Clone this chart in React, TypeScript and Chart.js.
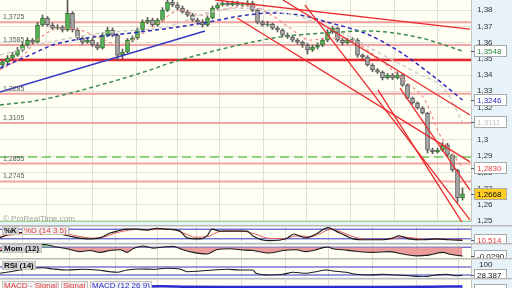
import React, { useEffect, useRef } from 'react';
import { Chart, registerables } from 'chart.js';

Chart.register(...registerables);

// ---------- price data (one candle per bar index) ----------
const opens = [1.3460,1.3480,1.3505,1.3523,1.3554,1.3585,1.3615,1.3603,1.3708,1.3751,
  1.3708,1.3689,1.3695,1.3677,1.3780,1.3677,1.3628,1.3603,1.3615,1.3585,
  1.3566,1.3646,1.3677,1.3646,1.3523,1.3542,1.3615,1.3628,1.3677,1.3726,
  1.3738,1.3708,1.3738,1.3800,1.3849,1.3831,1.3812,1.3788,1.3769,1.3738,
  1.3726,1.3708,1.3751,1.3812,1.3831,1.3843,1.3831,1.3843,1.3831,1.3831,
  1.3843,1.3800,1.3726,1.3708,1.3714,1.3689,1.3677,1.3646,1.3634,1.3615,
  1.3603,1.3585,1.3554,1.3572,1.3585,1.3615,1.3665,1.3689,1.3615,1.3597,
  1.3615,1.3615,1.3523,1.3511,1.3462,1.3431,1.3418,1.3382,1.3400,1.3382,
  1.3400,1.3338,1.3258,1.3228,1.3197,1.3166,1.2938,1.2926,1.2938,1.2969,
  1.2908,1.2815,1.2643];
const closes = [1.3480,1.3505,1.3523,1.3554,1.3585,1.3615,1.3603,1.3708,1.3751,1.3708,
  1.3689,1.3695,1.3677,1.3780,1.3677,1.3628,1.3603,1.3615,1.3585,1.3566,
  1.3646,1.3677,1.3646,1.3523,1.3542,1.3615,1.3628,1.3677,1.3726,1.3738,
  1.3708,1.3738,1.3800,1.3849,1.3831,1.3812,1.3788,1.3769,1.3738,1.3726,
  1.3708,1.3751,1.3812,1.3831,1.3843,1.3831,1.3843,1.3831,1.3831,1.3843,
  1.3800,1.3726,1.3708,1.3714,1.3689,1.3677,1.3646,1.3634,1.3615,1.3603,
  1.3585,1.3554,1.3572,1.3585,1.3615,1.3665,1.3689,1.3615,1.3597,1.3615,
  1.3615,1.3523,1.3511,1.3462,1.3431,1.3418,1.3382,1.3400,1.3382,1.3400,
  1.3338,1.3258,1.3228,1.3197,1.3166,1.2938,1.2926,1.2938,1.2969,1.2908,
  1.2815,1.2643,1.2668];
const highs = [1.3495,1.3520,1.3540,1.3570,1.3600,1.3630,1.3625,1.3725,1.3770,1.3760,
  1.3720,1.3710,1.3705,1.3862,1.3790,1.3690,1.3640,1.3630,1.3625,1.3600,
  1.3660,1.3695,1.3690,1.3655,1.3560,1.3625,1.3640,1.3690,1.3740,1.3755,
  1.3750,1.3750,1.3815,1.3862,1.3860,1.3845,1.3825,1.3800,1.3780,1.3750,
  1.3740,1.3765,1.3825,1.3845,1.3858,1.3855,1.3856,1.3855,1.3845,1.3858,
  1.3855,1.3810,1.3735,1.3730,1.3720,1.3700,1.3685,1.3660,1.3645,1.3625,
  1.3610,1.3595,1.3585,1.3598,1.3625,1.3680,1.3700,1.3695,1.3625,1.3625,
  1.3630,1.3625,1.3530,1.3520,1.3470,1.3440,1.3425,1.3410,1.3410,1.3420,
  1.3410,1.3345,1.3265,1.3235,1.3205,1.3170,1.2950,1.2950,1.2985,1.2980,
  1.2915,1.2820,1.2705];
const lows = [1.3440,1.3470,1.3495,1.3515,1.3545,1.3575,1.3590,1.3595,1.3700,1.3700,
  1.3680,1.3680,1.3665,1.3670,1.3665,1.3615,1.3590,1.3595,1.3575,1.3555,
  1.3560,1.3635,1.3635,1.3490,1.3500,1.3535,1.3605,1.3620,1.3670,1.3715,
  1.3700,1.3700,1.3730,1.3790,1.3820,1.3800,1.3780,1.3760,1.3730,1.3715,
  1.3695,1.3700,1.3745,1.3805,1.3825,1.3825,1.3825,1.3825,1.3820,1.3825,
  1.3790,1.3715,1.3700,1.3700,1.3680,1.3665,1.3635,1.3625,1.3605,1.3590,
  1.3570,1.3530,1.3545,1.3560,1.3575,1.3605,1.3655,1.3605,1.3585,1.3590,
  1.3600,1.3510,1.3500,1.3455,1.3420,1.3410,1.3370,1.3375,1.3372,1.3375,
  1.3330,1.3250,1.3220,1.3190,1.3160,1.2920,1.2915,1.2920,1.2930,1.2900,
  1.2805,1.2615,1.2630];

// ---------- axis ticks ----------
const priceTicks = [1.25,1.26,1.27,1.28,1.29,1.30,1.31,1.32,1.33,1.34,1.35,1.36,1.37,1.38];
const gridX = [4.1,13.3,22.5,30.9,38.9,47.7,56.5,65.1,74.1,82.7,91.3];

// ---------- horizontal levels ----------
const levelLines = [1.3725,1.3585,1.3285,1.3105,1.2855,1.2745];
const majorLevel = 1.3492;
const greenDashedLevel = 1.2895;
const baseLevel = 1.25;

// ---------- moving averages (bar index, price) ----------
const blueMaX = [-0.5,5.5,10.1,16.9,25.5,33.5,40.1,47.5,53.5,59.5,64.9,72.9,79.5,86.1,92];
const blueMaY = [1.3443,1.3523,1.3585,1.3628,1.3658,1.3689,1.3720,1.3763,1.3782,1.3769,1.3726,1.3652,1.3542,1.3394,1.3246];
const greenMaX = [-0.5,7.5,19.5,29.5,33.5,45.5,55.5,67.5,72.9,82.9,92];
const greenMaY = [1.3215,1.3246,1.3338,1.3431,1.3474,1.3572,1.3634,1.3665,1.3671,1.3634,1.3548];
const grayMaX = [-0.5,9.5,19.5,33.5,41.5,48.5,55.5,61.5,69.5,76.1,82.9,88.5,92];
const grayMaY = [1.3523,1.3603,1.3658,1.3702,1.3788,1.3812,1.3788,1.3738,1.3634,1.3523,1.3412,1.3308,1.3111];
const pinkMaX = [-0.5,3.5,7.5,11.5,15.5,19.5,23.5,27.5,31.5,35.5,39.5,43.5,49.5,53.5,57.5,61.5,65.5,69.5,73.5,77.5,81.5,84.5,87.5,92];
const pinkMaY = [1.3431,1.3505,1.3628,1.3689,1.3677,1.3628,1.3585,1.3646,1.3726,1.3800,1.3769,1.3800,1.3825,1.3775,1.3689,1.3615,1.3628,1.3615,1.3542,1.3443,1.3338,1.3246,1.3031,1.2830];

// ---------- trend lines [x1, x2] / [price1, price2] ----------
const redTrendX = [[42.5,93.5],[56.1,93.5],[46.9,93.5],[60.5,93.5],[75.1,93.5],[79.5,93.5]];
const redTrendY = [[1.3862,1.3683],[1.3862,1.3154],[1.3751,1.2865],[1.3831,1.2508],[1.3308,1.2415],[1.3320,1.2692]];
const blueTrendX = [-0.5,40.5];
const blueTrendY = [1.3295,1.3671];

// ---------- indicators ----------
const stochKX = [-0.5,1.5,5.5,8.5,11.5,14.1,16.9,19.5,21.5,22.9,24.9,26.9,28.9,30.9,32.9,35.5,36.9,39.5,40.9,41.9,43.5,46.1,48.9,50.1,53.3,56.7,58.3,59.3,60.7,62.7,65.1,66.7,68.7,70.1,72.7,76.1,78.1,79.3,81.3,84.1,86.7,89.3,92];
const stochKY = [26,50,62,68,50,32,20,26,56,68,80,80,74,86,80,68,26,20,38,80,68,68,68,38,8,20,50,38,26,50,90,68,38,20,14,14,26,38,20,14,20,14,10.514];
const stochDX = [-0.5,2,6,9.5,12.5,15.5,18,20.5,22.5,24.5,26.5,29,31.5,34,36.5,38.5,41,43,45,48,50.5,53.5,56.5,58.5,60,61.5,63.5,65.5,67.5,69.5,71.5,74,77,79,80.5,82.5,85,88,90,92];
const stochDY = [35,45,58,64,52,34,24,34,55,70,78,76,80,78,52,30,34,62,70,68,50,22,22,38,38,32,52,78,66,40,22,16,16,26,30,24,16,18,16,13];
const momX = [-0.5,3,6.5,8.1,10.9,12.9,15.5,17.5,19.5,21.5,23.5,24.9,26.1,28.1,30.1,32.1,34.1,35.9,38.1,40.9,42.9,45.5,47.5,50.1,53.3,56.1,58.7,60.7,62.7,64.1,65.1,66.1,68.1,70.7,74.1,77.3,80.1,82.7,85.3,88.1,89.3,92];
const momY = [-0.012,-0.004,0.004,0.009,0.0007,-0.0048,-0.0142,-0.0107,-0.0166,-0.0107,-0.0083,-0.0166,-0.0048,0.0042,-0.0028,0.0007,0.0031,-0.0073,-0.0166,-0.0221,-0.0073,-0.0048,-0.0083,-0.0107,-0.0187,-0.0107,-0.0083,-0.0142,-0.0083,-0.0014,0.0007,-0.0048,-0.0083,-0.0131,-0.0166,-0.0142,-0.0221,-0.028,-0.0256,-0.0166,-0.0221,-0.029];
const rsiX = [-0.5,1.5,5.9,8.1,10.1,12.9,16.1,18.9,21.5,22.9,24.9,27.5,30.1,32.9,35.5,36.9,39.5,42.1,44.9,47.5,50.1,50.7,53.3,56.1,58.1,60.7,62.7,64.7,66.1,68.7,70.7,73.3,76.1,78.7,81.3,84.1,86.7,88.7,90.7,92];
const rsiY = [38.5,46.5,63.5,66.5,60,55,58.5,55,46.5,43.5,55,60,58.5,63.5,60,46.5,50,55,58.5,55,55,38.5,30,33.5,43.5,38.5,46.5,55,50,43.5,33.5,30,33.5,30,26.5,21.5,30,33.5,26.5,28.387];
const rsiBounds = [70, 30];
const stochBounds = [80, 20];
const macdX = [24,28,32,36,45,55,65,75,85,92];
const macdY = [0.0095,0.0105,0.0110,0.0100,0.0090,0.0088,0.0090,0.0092,0.0095,0.0105];

// ---------- helpers ----------
const AXIS_W = 41;
const X_MIN = -0.5;
const X_MAX = 93.7;
const FONT = "'Liberation Sans', Arial, sans-serif";
const last = (a: number[]) => a[a.length - 1];
const fmt = (v: number, d?: number) => (d === undefined ? String(+v.toFixed(4)) : v.toFixed(d)).replace('.', ',');
const pts = (xs: number[], ys: number[]) => xs.map((x, i) => ({ x, y: ys[i] }));

const line = (data: any[], color: string, width: number, dash: number[] = [], order = 1, smooth = false, extra: any = {}) => ({
  type: 'line',
  data,
  borderColor: color,
  borderWidth: width,
  borderDash: dash,
  pointRadius: 0,
  fill: false,
  order,
  tension: smooth ? 0.4 : 0,
  cubicInterpolationMode: smooth ? 'monotone' : 'default',
  ...extra,
});
const hline = (v: number, color: string, width: number, dash: number[] = [], order = 8) =>
  line([{ x: X_MIN, y: v }, { x: X_MAX, y: v }], color, width, dash, order);

const xScale = () => ({
  type: 'linear',
  min: X_MIN,
  max: X_MAX,
  offset: false,
  ticks: { display: false },
  grid: { color: '#e1dfd5', drawTicks: false },
  border: { display: false },
  afterBuildTicks: (s: any) => { s.ticks = gridX.map((v) => ({ value: v })); },
});
const fitRight = (s: any) => {
  s.width = AXIS_W;
  s.paddingTop = 0;
  s.paddingBottom = 0;
};
const hiddenY = (min: number, max: number) => ({
  type: 'linear',
  position: 'right',
  min,
  max,
  ticks: { display: false },
  grid: { display: false, drawTicks: false },
  border: { display: false },
  afterFit: fitRight,
});

const bgPlugin = (separator: boolean) => ({
  id: 'bgfill',
  beforeDraw(chart: any) {
    const { ctx, chartArea: a, width, height } = chart;
    ctx.save();
    ctx.fillStyle = '#e8f2f9';
    ctx.fillRect(0, 0, width, height);
    ctx.fillStyle = '#fffff3';
    ctx.fillRect(a.left, a.top, a.right - a.left, a.bottom - a.top);
    if (separator) {
      ctx.fillStyle = '#b9b9b9';
      ctx.fillRect(0, 0, width, 1);
      ctx.fillStyle = '#dadada';
      ctx.fillRect(0, 1, width, 1);
    }
    ctx.restore();
  },
  afterDraw(chart: any) {
    const { ctx, chartArea: a } = chart;
    ctx.save();
    ctx.fillStyle = '#c4c4c4';
    ctx.fillRect(a.right, a.top, 1, a.bottom - a.top);
    ctx.restore();
  },
});

function valueBox(ctx: any, a: any, y: number, text: string, color: string, bg: string) {
  const yy = Math.round(y);
  ctx.fillStyle = '#555';
  ctx.fillRect(a.right, yy, 4, 1);
  ctx.fillStyle = bg;
  ctx.fillRect(a.right + 3, yy - 6, 33, 12);
  ctx.strokeStyle = '#a9a9a9';
  ctx.lineWidth = 1;
  ctx.strokeRect(a.right + 3.5, yy - 5.5, 32, 11);
  ctx.fillStyle = color;
  ctx.font = `8px ${FONT}`;
  ctx.textAlign = 'left';
  ctx.textBaseline = 'middle';
  ctx.fillText(text, a.right + 6, yy + 0.5);
}

function tag(ctx: any, x: number, yTop: number, text: string, color: string, bg: string, bold = true) {
  ctx.font = `${bold ? 'bold ' : ''}8px ${FONT}`;
  const w = Math.ceil(ctx.measureText(text).width) + 4;
  ctx.fillStyle = bg;
  ctx.fillRect(x, yTop, w, 9);
  ctx.strokeStyle = '#c2c2c2';
  ctx.lineWidth = 1;
  ctx.strokeRect(x + 0.5, yTop + 0.5, w - 1, 8);
  ctx.fillStyle = color;
  ctx.textAlign = 'left';
  ctx.textBaseline = 'middle';
  ctx.fillText(text, x + 2, yTop + 5);
  return x + w;
}

const baseOptions = (padding: any) => ({
  responsive: false,
  animation: false,
  events: [],
  layout: { padding },
  plugins: { legend: { display: false }, tooltip: { enabled: false } },
});

function mainConfig(): any {
  const up = (i: number) => closes[i] >= opens[i];
  return {
    type: 'bar',
    data: {
      datasets: [
        ...levelLines.map((l) => hline(l, '#f2a2a0', 2, [], 9)),
        hline(majorLevel, '#e8262b', 2.5, [], 9),
        hline(greenDashedLevel, '#6cc85a', 1.5, [9, 5], 9),
        hline(baseLevel, '#86c476', 1, [], 9),
        {
          type: 'bar',
          data: highs.map((h, i) => ({ x: i, y: [lows[i], h] })),
          backgroundColor: '#5a5a5a',
          barThickness: 1,
          grouped: false,
          borderSkipped: false,
          order: 6,
        },
        {
          type: 'bar',
          data: opens.map((o, i) => ({ x: i, y: [o, closes[i]] })),
          backgroundColor: opens.map((_, i) => (up(i) ? '#55b655' : '#a8a8a8')),
          borderColor: opens.map((_, i) => (up(i) ? '#2f6e2f' : '#505050')),
          borderWidth: 1,
          barThickness: 4,
          minBarLength: 1,
          grouped: false,
          borderSkipped: false,
          order: 5,
        },
        line(pts(greenMaX, greenMaY), '#3e8c52', 1.5, [4, 3], 3, true),
        line(pts(grayMaX, grayMaY), '#cfcfcf', 1.5, [4, 3], 3, true),
        line(pts(blueMaX, blueMaY), '#2b2bbd', 1.5, [4, 3], 3, true),
        line(pts(pinkMaX, pinkMaY), '#f08a8a', 1.2, [3, 3], 3, true),
        line(pts(blueTrendX, blueTrendY), '#3838c4', 1.5, [], 2),
        ...redTrendX.map((xs, k) => line(pts(xs, redTrendY[k]), '#ea2a2e', 1.3, [], 1)),
      ],
    },
    options: {
      ...baseOptions({ top: 0, bottom: 3, left: 0, right: 0 }),
      scales: {
        x: xScale(),
        y: {
          type: 'linear',
          position: 'right',
          min: 1.2495,
          max: 1.3862,
          afterBuildTicks: (s: any) => { s.ticks = priceTicks.map((v) => ({ value: v })); },
          afterFit: fitRight,
          ticks: { padding: 6, color: '#333', font: { family: FONT, size: 8 }, callback: (v: any) => fmt(Number(v)) },
          grid: { color: '#e6e4da', drawTicks: false },
          border: { display: false },
        },
      },
    },
    plugins: [
      bgPlugin(false),
      {
        id: 'mainDecor',
        afterDraw(chart: any) {
          const { ctx, chartArea: a } = chart;
          const y = chart.scales.y;
          ctx.save();
          ctx.font = `7px ${FONT}`;
          ctx.fillStyle = '#5a5a5a';
          ctx.textAlign = 'left';
          ctx.textBaseline = 'alphabetic';
          levelLines.forEach((l) => ctx.fillText(fmt(l, 4), a.left + 3, y.getPixelForValue(l) - 3));
          ctx.font = `8px ${FONT}`;
          ctx.fillStyle = '#9f9f9f';
          ctx.fillText('© ProRealTime.com', a.left + 3, a.bottom - 1);
          valueBox(ctx, a, y.getPixelForValue(last(greenMaY)), fmt(last(greenMaY), 4), '#2f8a3c', '#ffffff');
          valueBox(ctx, a, y.getPixelForValue(last(blueMaY)), fmt(last(blueMaY), 4), '#2b2bbd', '#ffffff');
          valueBox(ctx, a, y.getPixelForValue(last(grayMaY)), fmt(last(grayMaY), 4), '#c4c4c4', '#ffffff');
          valueBox(ctx, a, y.getPixelForValue(last(pinkMaY)), fmt(last(pinkMaY), 4), '#e23b3b', '#ffffff');
          valueBox(ctx, a, y.getPixelForValue(last(closes)), fmt(last(closes), 4), '#111111', '#ffcc22');
          ctx.restore();
        },
      },
    ],
  };
}

function panelConfig(datasets: any[], yMin: number, yMax: number, padding: any, decor: (chart: any) => void): any {
  return {
    type: 'line',
    data: { datasets },
    options: {
      ...baseOptions(padding),
      scales: { x: xScale(), y: hiddenY(yMin, yMax) },
    },
    plugins: [bgPlugin(true), { id: 'decor', afterDraw(chart: any) { chart.ctx.save(); decor(chart); chart.ctx.restore(); } }],
  };
}

export default function App() {
  const mainRef = useRef<HTMLCanvasElement>(null);
  const kRef = useRef<HTMLCanvasElement>(null);
  const momRef = useRef<HTMLCanvasElement>(null);
  const rsiRef = useRef<HTMLCanvasElement>(null);
  const macdRef = useRef<HTMLCanvasElement>(null);

  useEffect(() => {
    const charts: any[] = [];
    charts.push(new Chart(mainRef.current as any, mainConfig()));

    charts.push(new Chart(kRef.current as any, panelConfig([
      ...stochBounds.map((b) => hline(b, '#3535c8', 1, [], 5)),
      line(pts(stochDX, stochDY), '#e35b5b', 1, [], 2, true),
      line(pts(stochKX, stochKY), '#1c1c1c', 1.2, [], 1, true),
    ], 0, 100, { top: 1, bottom: 1 }, (chart) => {
      const { ctx, chartArea: a } = chart;
      const x2 = tag(ctx, 2, a.top, '%K', '#111', '#d6d6d6');
      tag(ctx, x2 + 3, a.top, '%D (14 3 5)', '#e03a3a', '#efefef', false);
      valueBox(ctx, a, chart.scales.y.getPixelForValue(last(stochKY)), fmt(last(stochKY), 3), '#e03a3a', '#ffffff');
    })));

    charts.push(new Chart(momRef.current as any, panelConfig([
      hline(0, '#3535c8', 1, [], 5),
      line(pts(momX, momY), '#1c1c1c', 1.1, [], 1, true, {
        fill: { target: { value: 0 }, above: 'rgba(120,200,120,0.85)', below: 'rgba(232,140,140,0.85)' },
      }),
    ], -0.035, 0.0105, { top: 1, bottom: 0 }, (chart) => {
      const { ctx, chartArea: a } = chart;
      tag(ctx, 2, a.top, 'Mom (12)', '#111', '#d6d6d6');
      valueBox(ctx, a, chart.scales.y.getPixelForValue(last(momY)), fmt(last(momY), 4), '#222', '#ffffff');
    })));

    charts.push(new Chart(rsiRef.current as any, panelConfig([
      ...rsiBounds.map((b) => hline(b, '#3535c8', 1, [], 5)),
      line(pts(rsiX, rsiY), '#1c1c1c', 1.1, [], 1, true),
    ], 20, 105, { top: 2, bottom: 1 }, (chart) => {
      const { ctx, chartArea: a } = chart;
      tag(ctx, 2, a.top + 1, 'RSI (14)', '#111', '#d6d6d6');
      ctx.font = `8px ${FONT}`;
      ctx.fillStyle = '#222';
      ctx.textAlign = 'left';
      ctx.textBaseline = 'middle';
      ctx.fillText('100', a.right + 8, a.top + 5);
      valueBox(ctx, a, chart.scales.y.getPixelForValue(last(rsiY)), fmt(last(rsiY), 3), '#222', '#ffffff');
    })));

    charts.push(new Chart(macdRef.current as any, panelConfig([
      line(pts(macdX, macdY), '#2a2ad0', 2.5, [], 1, true),
    ], -0.03, 0.03, { top: 2, bottom: 0 }, (chart) => {
      const { ctx, chartArea: a } = chart;
      let x = tag(ctx, 2, a.top + 1, 'MACD - Signal', '#e03a3a', '#efefef', false);
      x = tag(ctx, x + 2, a.top + 1, 'Signal', '#e03a3a', '#efefef', false);
      tag(ctx, x + 2, a.top + 1, 'MACD (12 26 9)', '#2a2ad0', '#efefef', false);
      valueBox(ctx, a, chart.scales.y.getPixelForValue(last(macdY)) + 3, fmt(last(macdY), 4), '#222', '#ffffff');
    })));

    return () => charts.forEach((c) => c.destroy());
  }, []);

  const cv = (top: number): any => ({ position: 'absolute', left: 0, top });
  return (
    <div style={{ position: 'fixed', left: 0, top: 0, width: 512, height: 288, overflow: 'hidden', background: '#e8f2f9' }}>
      <canvas ref={mainRef} width={512} height={225} style={cv(0)} />
      <canvas ref={kRef} width={512} height={18} style={cv(225)} />
      <canvas ref={momRef} width={512} height={15} style={cv(243)} />
      <canvas ref={rsiRef} width={512} height={20} style={cv(258)} />
      <canvas ref={macdRef} width={512} height={22} style={cv(278)} />
    </div>
  );
}
